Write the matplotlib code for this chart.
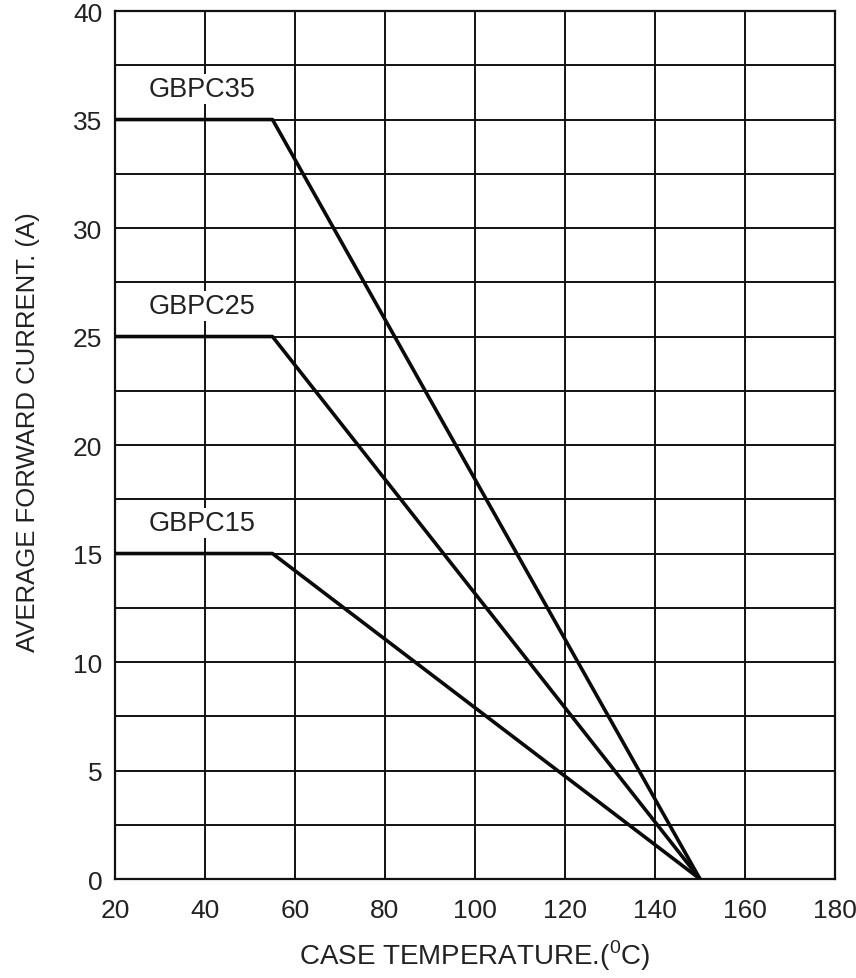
import matplotlib
matplotlib.use('Agg')
import matplotlib.pyplot as plt

plt.rcParams['font.family'] = ['Liberation Sans', 'DejaVu Sans']
plt.rcParams['mathtext.fontset'] = 'custom'
plt.rcParams['mathtext.rm'] = 'Liberation Sans'

# derating curves: flat up to 55 C, then linear down to 0 at 150 C
temp = [20, 55, 150]
gbpc35 = [35, 35, 0]
gbpc25 = [25, 25, 0]
gbpc15 = [15, 15, 0]

series = [('GBPC35', gbpc35), ('GBPC25', gbpc25), ('GBPC15', gbpc15)]

xticks = [20, 40, 60, 80, 100, 120, 140, 160, 180]
yticks = [0, 5, 10, 15, 20, 25, 30, 35, 40]
ygrid = [i * 2.5 for i in range(17)]

fig = plt.figure(figsize=(8.56, 9.79), dpi=100)
ax = fig.add_axes([0.1343, 0.1011, 0.8412, 0.8866])

for x in xticks:
    ax.axvline(x, color='#111111', linewidth=1.4, zorder=1)
for y in ygrid:
    ax.axhline(y, color='#111111', linewidth=1.4, zorder=1)

for name, vals in series:
    ax.plot(temp, vals, color='#0a0a0a', linewidth=2.6, zorder=3, solid_capstyle='butt')
    ax.text(39.4, vals[0] + 1.4, name, fontsize=19.5, color='#222222', ha='center', va='center', zorder=4,
            bbox=dict(facecolor='white', edgecolor='none', pad=1.5))

ax.set_xlim(20, 180)
ax.set_ylim(0, 40)
ax.set_xticks(xticks)
ax.set_yticks(yticks)
ax.tick_params(axis='both', length=0, labelsize=19, colors='#222222')
ax.tick_params(axis='x', pad=14)
ax.tick_params(axis='y', pad=9)
for s in ax.spines.values():
    s.set_linewidth(1.6)
    s.set_color('#111111')

ax.set_xlabel('CASE TEMPERATURE.($^{0}$C)', fontsize=20, color='#222222', labelpad=11)
ax.set_ylabel('AVERAGE FORWARD CURRENT. (A)', fontsize=18.5, color='#222222')
ax.yaxis.set_label_coords(-0.104, 0.516)

plt.savefig('out.png', dpi=100)
